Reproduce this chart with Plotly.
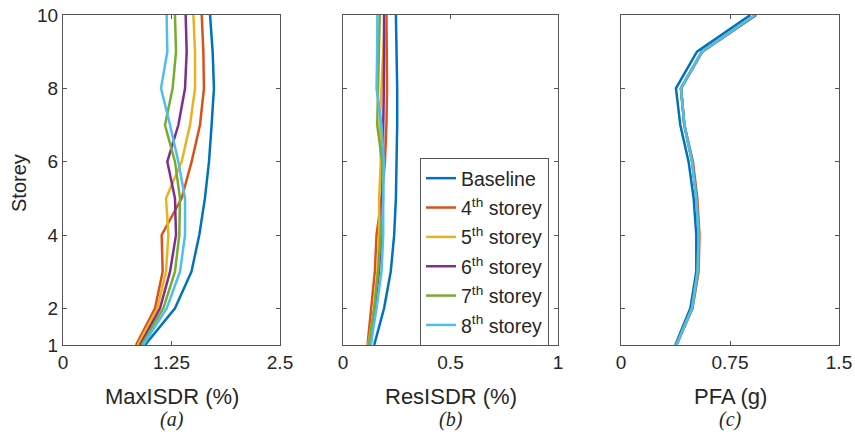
import plotly.graph_objects as go

storeys = [1, 2, 3, 4, 5, 6, 7, 8, 9, 10]
series_names = ["Baseline", "4<sup>th</sup> storey", "5<sup>th</sup> storey",
                "6<sup>th</sup> storey", "7<sup>th</sup> storey", "8<sup>th</sup> storey"]
colors = ["#0072BD", "#D95319", "#EDB120", "#7E2F8E", "#77AC30", "#4DBEEE"]

# MaxISDR (%) by storey 1..10
max_baseline = [0.945, 1.29, 1.48, 1.57, 1.635, 1.682, 1.712, 1.739, 1.724, 1.694]
max_4th = [0.841, 1.06, 1.148, 1.137, 1.367, 1.482, 1.578, 1.624, 1.617, 1.598]
max_5th = [0.860, 1.087, 1.187, 1.214, 1.187, 1.367, 1.463, 1.521, 1.521, 1.502]
max_6th = [0.887, 1.118, 1.233, 1.302, 1.290, 1.202, 1.329, 1.406, 1.425, 1.413]
max_7th = [0.906, 1.156, 1.290, 1.340, 1.348, 1.290, 1.175, 1.263, 1.302, 1.290]
max_8th = [0.925, 1.194, 1.348, 1.406, 1.406, 1.329, 1.233, 1.129, 1.202, 1.194]

# ResISDR (%)
res_baseline = [0.145, 0.191, 0.222, 0.238, 0.246, 0.250, 0.252, 0.252, 0.249, 0.246]
res_4th = [0.114, 0.132, 0.148, 0.156, 0.179, 0.195, 0.202, 0.205, 0.205, 0.202]
res_5th = [0.117, 0.145, 0.160, 0.168, 0.168, 0.176, 0.171, 0.179, 0.187, 0.195]
res_6th = [0.129, 0.148, 0.167, 0.179, 0.182, 0.187, 0.187, 0.190, 0.191, 0.191]
res_7th = [0.121, 0.145, 0.163, 0.176, 0.187, 0.182, 0.159, 0.163, 0.168, 0.171]
res_8th = [0.129, 0.156, 0.179, 0.187, 0.187, 0.190, 0.179, 0.156, 0.159, 0.160]

# PFA (g)
pfa_baseline = [0.374, 0.477, 0.518, 0.518, 0.500, 0.465, 0.408, 0.378, 0.523, 0.890]
pfa_4th = [0.381, 0.492, 0.534, 0.540, 0.525, 0.495, 0.436, 0.413, 0.560, 0.930]
pfa_5th = [0.381, 0.489, 0.530, 0.536, 0.520, 0.490, 0.434, 0.413, 0.557, 0.926]
pfa_6th = [0.381, 0.489, 0.528, 0.534, 0.520, 0.490, 0.436, 0.413, 0.557, 0.928]
pfa_7th = [0.381, 0.488, 0.527, 0.534, 0.518, 0.489, 0.436, 0.412, 0.556, 0.922]
pfa_8th = [0.381, 0.489, 0.527, 0.534, 0.518, 0.489, 0.436, 0.413, 0.557, 0.924]

max_data = [max_baseline, max_4th, max_5th, max_6th, max_7th, max_8th]
res_data = [res_baseline, res_4th, res_5th, res_6th, res_7th, res_8th]
pfa_data = [pfa_baseline, pfa_4th, pfa_5th, pfa_6th, pfa_7th, pfa_8th]

x_titles = ["MaxISDR (%)", "ResISDR (%)", "PFA (g)"]
y_title = "Storey"
sub_labels = ["(a)", "(b)", "(c)"]
x_ranges = [[0, 2.5], [0, 1], [0, 1.5]]
x_tickvals = [[0, 1.25, 2.5], [0, 0.5, 1], [0, 0.75, 1.5]]
x_ticktext = [["0", "1.25", "2.5"], ["0", "0.5", "1"], ["0", "0.75", "1.5"]]
y_tickvals = [1, 2, 4, 6, 8, 10]

W, H = 855, 434


def fx(px):
    return px / W


def fy(py):
    return 1 - py / H


dom_x = [[fx(63), fx(280)], [fx(343), fx(558)], [fx(621), fx(839)]]
dom_y = [fy(345), fy(15)]

SANS = "Liberation Sans, Arial, sans-serif"
TXT = "#262626"

fig = go.Figure()
for p, data in enumerate([max_data, res_data, pfa_data]):
    xa = "x" if p == 0 else f"x{p+1}"
    ya = "y" if p == 0 else f"y{p+1}"
    for i, vals in enumerate(data):
        fig.add_trace(go.Scatter(
            x=vals, y=storeys, mode="lines", name=series_names[i],
            line=dict(color=colors[i], width=2.5),
            xaxis=xa, yaxis=ya, showlegend=(p == 1), legendgroup=f"g{i}",
        ))

axis_common = dict(showline=True, linecolor="#555555", linewidth=1, mirror="ticks",
                   ticks="inside", ticklen=4, tickcolor="#555555", showgrid=False,
                   zeroline=False, tickfont=dict(family=SANS, size=19, color=TXT),
                   automargin=False)

layout = dict(width=W, height=H, margin=dict(l=0, r=0, t=0, b=0),
              plot_bgcolor="white", paper_bgcolor="white",
              font=dict(family=SANS, size=18, color=TXT))
for p in range(3):
    sx = "" if p == 0 else str(p + 1)
    layout[f"xaxis{sx}"] = dict(domain=dom_x[p], range=x_ranges[p], tickvals=x_tickvals[p],
                                ticktext=x_ticktext[p], anchor=f"y{sx}", **axis_common)
    layout[f"yaxis{sx}"] = dict(domain=dom_y, range=[1, 10], tickvals=y_tickvals,
                                showticklabels=(p == 0), anchor=f"x{sx}", **axis_common)
fig.update_layout(**layout)

for p in range(3):
    cx = (dom_x[p][0] + dom_x[p][1]) / 2
    fig.add_annotation(text=x_titles[p], xref="paper", yref="paper", x=cx, y=fy(396),
                       showarrow=False, yanchor="middle", xanchor="center",
                       font=dict(family=SANS, size=22, color=TXT))
    fig.add_annotation(text=sub_labels[p], xref="paper", yref="paper", x=cx, y=fy(419),
                       showarrow=False, yanchor="middle", xanchor="center",
                       font=dict(family="Liberation Serif, Times New Roman, serif", size=20,
                                 color=TXT, style="italic"))

fig.add_annotation(text=y_title, xref="paper", yref="paper", x=fx(19), y=fy(183),
                   showarrow=False, textangle=-90, xanchor="center", yanchor="middle",
                   font=dict(family=SANS, size=20, color=TXT))

fig.update_layout(legend=dict(x=fx(420), y=fy(158), xanchor="left", yanchor="top",
                              bgcolor="white", bordercolor="#555555", borderwidth=1,
                              font=dict(size=19.5, family=SANS, color=TXT),
                              tracegroupgap=1, itemwidth=30))

# remove the default 8px page margin so the figure fills the window exactly
fig.write_html("out.html", config={"displayModeBar": False},
               post_script="document.body.style.margin='0';")
